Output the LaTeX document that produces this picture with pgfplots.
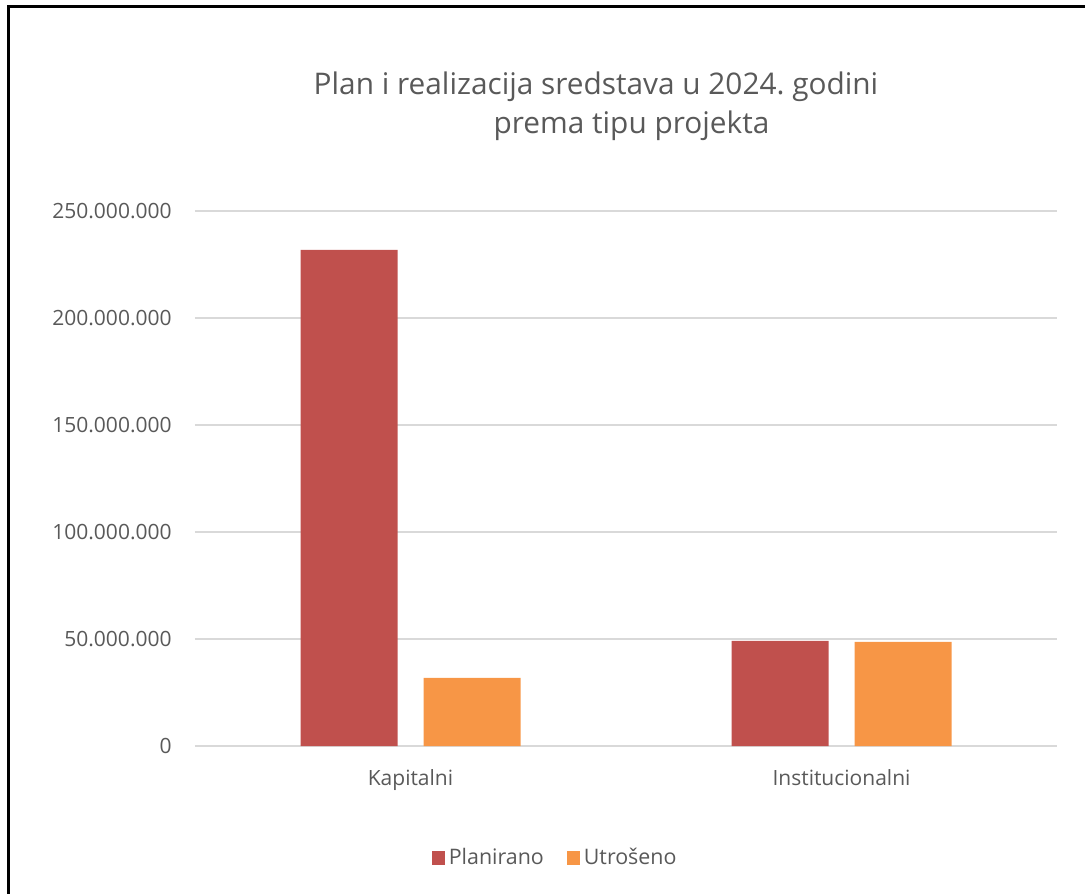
\documentclass[border=0pt]{standalone}
\usepackage{fontspec}
\setmainfont{Open Sans}
\usepackage{pgfplots}
\pgfplotsset{compat=1.18}
\definecolor{plan}{HTML}{C0504D}
\definecolor{utro}{HTML}{F79646}
\definecolor{txt}{HTML}{595959}
\definecolor{grd}{HTML}{D9D9D9}
\frenchspacing
\begin{document}
\begin{tikzpicture}[x=0.5pt,y=0.5pt]
\useasboundingbox (-195,-147) rectangle (890,746);
\draw[line width=1.1pt] (-186.5,-160) -- (-186.5,739.5) -- (900,739.5);
\begin{axis}[
    at={(0,0)}, anchor=south west,
    scale only axis, width=431pt, height=267.5pt,
    xmin=-0.5, xmax=1.5, ymin=0, ymax=250000000,
    ybar, bar width=48.5pt,
    axis line style={draw=none},
    major tick length=0pt,
    xtick={0,1}, xticklabels={Kapitalni,Institucionalni},
    ytick={0,50000000,100000000,150000000,200000000,250000000},
    scaled y ticks=false,
    ymajorgrids=true,
    grid style={grd, line width=0.7pt},
    ticklabel style={font=\fontsize{10.5}{12}\selectfont, text=txt},
    xticklabel style={anchor=base, inner sep=0pt, yshift=-19.5pt},
    yticklabel style={anchor=east, inner sep=0pt, xshift=-11.5pt,
        /pgf/number format/fixed, /pgf/number format/1000 sep={.},
        /pgf/number format/assume math mode=true},
    legend columns=2,
    legend style={at={(0.419,-0.2093)}, anchor=center, draw=none,
        font=\fontsize{10.7}{12}\selectfont, text=txt,
        /tikz/every even column/.append style={column sep=9.5pt}},
    legend image code/.code={\fill[#1] (0pt,-3.3pt) rectangle (6.5pt,3.3pt);},
]
\addplot[fill=plan, draw=none, bar shift=-30.75pt]
    coordinates {(0,231800000) (1,49100000)};
\addplot[fill=utro, draw=none, bar shift=30.75pt]
    coordinates {(0,31800000) (1,48600000)};
\legend{Planirano, Utrošeno}
\end{axis}
\node[anchor=base, text=txt, font=\fontsize{14.9}{17}\selectfont, inner sep=0pt]
    at (401,651) {Plan i realizacija sredstava u 2024. godini};
\node[anchor=base, text=txt, font=\fontsize{14.9}{17}\selectfont, inner sep=0pt]
    at (436.5,612) {prema tipu projekta};
\end{tikzpicture}
\end{document}
